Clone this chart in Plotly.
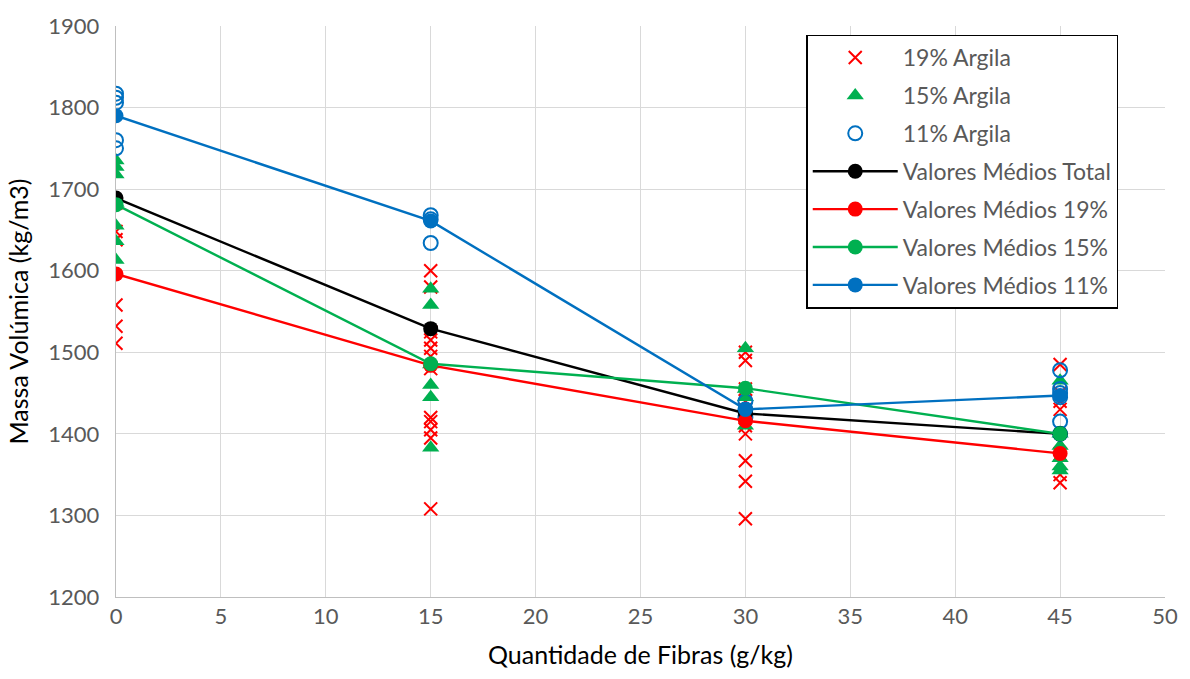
import plotly.graph_objects as go

# ---- data ----
fib_levels = [0, 15, 30, 45]

x19 = [0]*6 + [15]*12 + [30]*11 + [45]*8
y19 = [1683, 1648, 1638, 1558, 1532, 1511,
       1600, 1580, 1525, 1515, 1505, 1495, 1480, 1420, 1415, 1405, 1395, 1308,
       1500, 1490, 1455, 1440, 1430, 1420, 1410, 1400, 1367, 1342, 1296,
       1485, 1450, 1440, 1430, 1390, 1375, 1350, 1340]

x15 = [0]*7 + [15]*6 + [30]*4 + [45]*6
y15 = [1735, 1727, 1718, 1683, 1655, 1636, 1613,
       1578, 1558, 1485, 1460, 1445, 1383,
       1505, 1455, 1445, 1410,
       1465, 1400, 1385, 1370, 1355, 1360]

x11 = [0]*5 + [15]*3 + [30]*3 + [45]*6
y11 = [1817, 1812, 1806, 1760, 1750,
       1668, 1663, 1634,
       1440, 1430, 1420,
       1478, 1455, 1450, 1445, 1415, 1400]

mean_total = [1689, 1529, 1425, 1400]
mean_19 = [1596, 1484, 1416, 1376]
mean_15 = [1681, 1486, 1456, 1400]
mean_11 = [1790, 1661, 1430, 1447]

RED = "#FF0000"
GREEN = "#00B050"
BLUE = "#0070C0"

fig = go.Figure()

fig.add_trace(go.Scatter(x=x19, y=y19, mode="markers", name="19% Argila", legendgroup="a",
                         marker=dict(symbol="x-thin", size=13, line=dict(color=RED, width=2), color=RED)))
fig.add_trace(go.Scatter(x=x15, y=y15, mode="markers", name="15% Argila", legendgroup="b",
                         marker=dict(symbol="triangle-up", size=15, color=GREEN)))
fig.add_trace(go.Scatter(x=x11, y=y11, mode="markers", name="11% Argila", legendgroup="c",
                         marker=dict(symbol="circle-open", size=14, color=BLUE, line=dict(width=2))))

for name, ys, col, g in [("Valores Médios Total", mean_total, "#000000", "d"),
                         ("Valores Médios 19%", mean_19, RED, "e"),
                         ("Valores Médios 15%", mean_15, GREEN, "f"),
                         ("Valores Médios 11%", mean_11, BLUE, "g")]:
    fig.add_trace(go.Scatter(x=fib_levels, y=ys, mode="lines+markers", name=name, legendgroup=g,
                             line=dict(color=col, width=2.4),
                             marker=dict(symbol="circle", size=15, color=col)))

FONT = "Lato, Open Sans, sans-serif"

fig.update_layout(
    width=1190, height=679,
    paper_bgcolor="white", plot_bgcolor="white",
    margin=dict(l=116, r=20, t=23, b=82),
    font=dict(family=FONT, color="#595959", size=22),
    showlegend=True,
    legend=dict(x=0.658, y=0.985, xanchor="left", yanchor="top",
                bordercolor="#000000", borderwidth=1.5, bgcolor="white",
                traceorder="grouped", tracegroupgap=5,
                font=dict(family=FONT, size=23, color="#595959"),
                itemwidth=85),
    xaxis=dict(range=[0, 50], dtick=5, showgrid=True, gridcolor="#D9D9D9", gridwidth=1,
               zeroline=False, showline=True, linecolor="#BFBFBF", ticks="",
               tickfont=dict(size=22, color="#595959"),
               title=dict(text="Quantidade de Fibras (g/kg)", font=dict(size=25, color="#000000"), standoff=18)),
    yaxis=dict(range=[1200, 1900], dtick=100, showgrid=True, gridcolor="#D9D9D9", gridwidth=1,
               zeroline=False, showline=True, linecolor="#BFBFBF", ticks="",
               tickfont=dict(size=22, color="#595959"), ticksuffix="  ",
               title=dict(text="Massa Volúmica (kg/m3)", font=dict(size=25, color="#000000"), standoff=12)),
)

fig.write_html("out.html")
